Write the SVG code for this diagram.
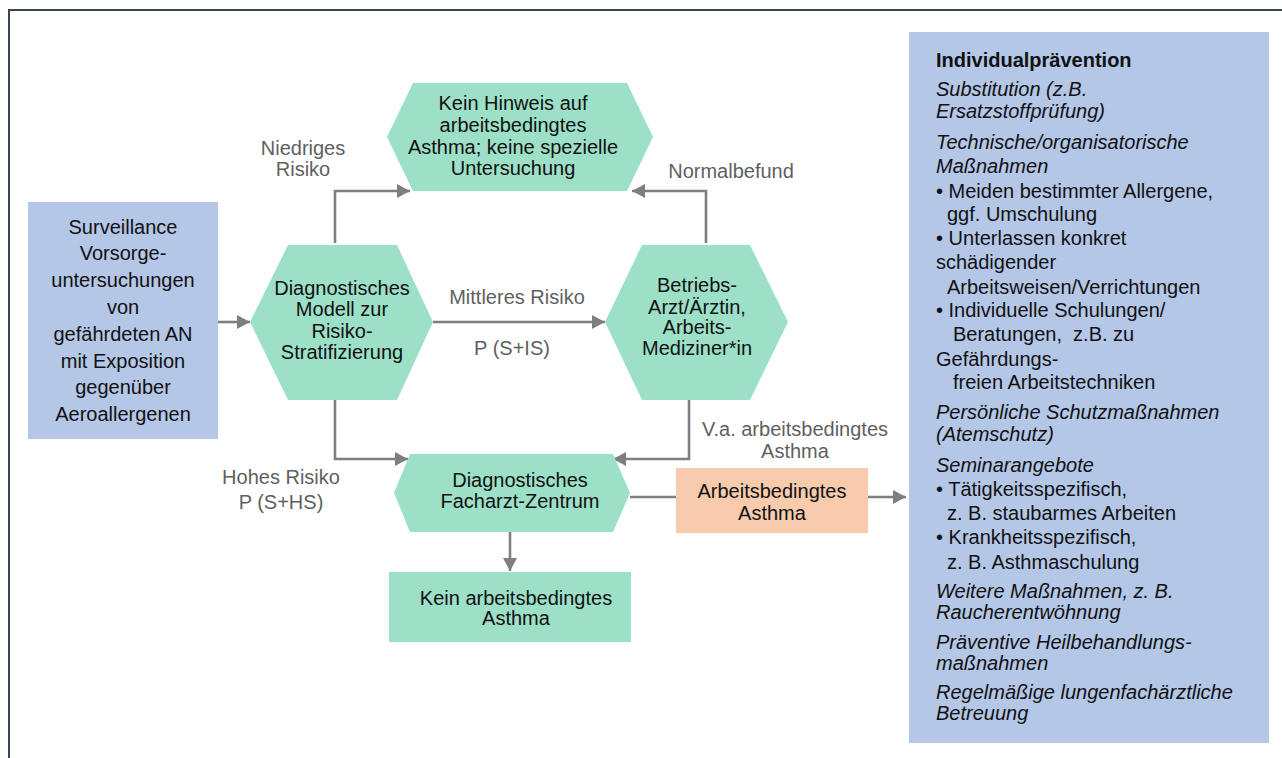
<svg xmlns="http://www.w3.org/2000/svg" width="1282" height="758" viewBox="0 0 1282 758">
<style>
text{font-family:"Liberation Sans",Arial,sans-serif;font-size:20px;fill:#111}
.c{text-anchor:middle}
.lbl{fill:#5f5f5f}
.hex{fill:#9de0c8}
.mint{fill:#9de0c8}
.blue{fill:#b4c7e7}
.orange{fill:#f8cbad}
.con{fill:none;stroke:#7f7f7f;stroke-width:2.6}
.arr{marker-end:url(#ah)}
.it{font-style:italic}
.b{font-weight:bold}
.p text{font-size:20px}
</style>
<defs>
<marker id="ah" markerUnits="userSpaceOnUse" markerWidth="14" markerHeight="14" refX="13" refY="7" orient="auto">
<path d="M0,0 L13,7 L0,14 z" fill="#7f7f7f"/>
</marker>
</defs>
<rect width="1282" height="758" fill="#fff"/>
<path d="M9,760 V10 H1284" fill="none" stroke="#3a4556" stroke-width="2"/>

<g id="connectors">
<path class="con arr" d="M218,322 H250"/>
<path class="con arr" d="M335,243 V191 H410"/>
<path class="con arr" d="M433,322 H605"/>
<path class="con arr" d="M706,243 V191 H632"/>
<path class="con arr" d="M335,400 V459 H408"/>
<path class="con arr" d="M689,400 V459 H613"/>
<path class="con" d="M630,497 H676"/>
<path class="con arr" d="M868,497 H906"/>
<path class="con arr" d="M510,532 V571"/>
</g>

<g id="labels">
<text class="c lbl" x="303" y="155">Niedriges</text>
<text class="c lbl" x="303" y="176">Risiko</text>
<text class="c lbl" x="731" y="178">Normalbefund</text>
<text class="c lbl" x="517" y="304">Mittleres Risiko</text>
<text class="c lbl" x="512" y="355">P (S+IS)</text>
<text class="c lbl" x="281" y="484">Hohes Risiko</text>
<text class="c lbl" x="281" y="509">P (S+HS)</text>
<text class="c lbl" x="795" y="436">V.a. arbeitsbedingtes</text>
<text class="c lbl" x="795" y="458">Asthma</text>
</g>

<g id="surveillance">
<rect class="blue" x="28" y="202" width="190" height="237"/>
<text class="c" x="123" y="234">Surveillance</text>
<text class="c" x="123" y="260">Vorsorge-</text>
<text class="c" x="123" y="287">untersuchungen</text>
<text class="c" x="123" y="314">von</text>
<text class="c" x="123" y="341">gefährdeten AN</text>
<text class="c" x="123" y="368">mit Exposition</text>
<text class="c" x="123" y="394">gegenüber</text>
<text class="c" x="123" y="421">Aeroallergenen</text>
</g>

<g id="kein-hinweis">
<polygon class="hex" points="387,137 413,83 627,83 653,137 627,191 413,191"/>
<text class="c" x="513" y="110">Kein Hinweis auf</text>
<text class="c" x="513" y="132">arbeitsbedingtes</text>
<text class="c" x="513" y="154">Asthma; keine spezielle</text>
<text class="c" x="513" y="175">Untersuchung</text>
</g>

<g id="modell">
<polygon class="hex" points="250,322 288,245 397,245 433,322 397,400 288,400"/>
<text class="c" x="342" y="295">Diagnostisches</text>
<text class="c" x="342" y="316">Modell zur</text>
<text class="c" x="342" y="338">Risiko-</text>
<text class="c" x="342" y="359">Stratifizierung</text>
</g>

<g id="betriebsarzt">
<polygon class="hex" points="605,322 642,245 750,245 788,322 750,400 642,400"/>
<text class="c" x="697" y="292">Betriebs-</text>
<text class="c" x="697" y="314">Arzt/Ärztin,</text>
<text class="c" x="697" y="334">Arbeits-</text>
<text class="c" x="697" y="355">Mediziner*in</text>
</g>

<g id="facharzt">
<polygon class="hex" points="394,493 410,454 613,454 630,493 613,532 410,532"/>
<text class="c" x="520" y="487">Diagnostisches</text>
<text class="c" x="520" y="508">Facharzt-Zentrum</text>
</g>

<g id="kein-asthma">
<rect class="mint" x="389" y="572" width="242" height="70"/>
<text class="c" x="516" y="605">Kein arbeitsbedingtes</text>
<text class="c" x="516" y="625">Asthma</text>
</g>

<g id="arbeitsbedingt">
<rect class="orange" x="676" y="468" width="192" height="65"/>
<text class="c" x="772" y="498">Arbeitsbedingtes</text>
<text class="c" x="772" y="520">Asthma</text>
</g>

<g id="individualpraevention" class="p">
<rect class="blue" x="909" y="32" width="360" height="711"/>
<text class="b" x="936" y="67">Individualprävention</text>
<text class="it" x="936" y="96">Substitution (z.B.</text>
<text class="it" x="936" y="118">Ersatzstoffprüfung)</text>
<text class="it" x="936" y="149">Technische/organisatorische</text>
<text class="it" x="936" y="173">Maßnahmen</text>
<text x="936" y="198">• Meiden bestimmter Allergene,</text>
<text x="947" y="221">ggf. Umschulung</text>
<text x="936" y="245">• Unterlassen konkret</text>
<text x="936" y="269">schädigender</text>
<text x="947" y="294">Arbeitsweisen/Verrichtungen</text>
<text x="936" y="317">• Individuelle Schulungen/</text>
<text x="953" y="341" xml:space="preserve">Beratungen,  z.B. zu</text>
<text x="936" y="366">Gefährdungs-</text>
<text x="953" y="389">freien Arbeitstechniken</text>
<text class="it" x="936" y="419">Persönliche Schutzmaßnahmen</text>
<text class="it" x="936" y="441">(Atemschutz)</text>
<text class="it" x="936" y="472">Seminarangebote</text>
<text x="936" y="496">• Tätigkeitsspezifisch,</text>
<text x="947" y="520">z. B. staubarmes Arbeiten</text>
<text x="936" y="544">• Krankheitsspezifisch,</text>
<text x="947" y="569">z. B. Asthmaschulung</text>
<text class="it" x="936" y="598">Weitere Maßnahmen, z. B.</text>
<text class="it" x="936" y="619">Raucherentwöhnung</text>
<text class="it" x="936" y="649">Präventive Heilbehandlungs-</text>
<text class="it" x="936" y="670">maßnahmen</text>
<text class="it" x="936" y="699">Regelmäßige lungenfachärztliche</text>
<text class="it" x="936" y="720">Betreuung</text>
</g>
</svg>
